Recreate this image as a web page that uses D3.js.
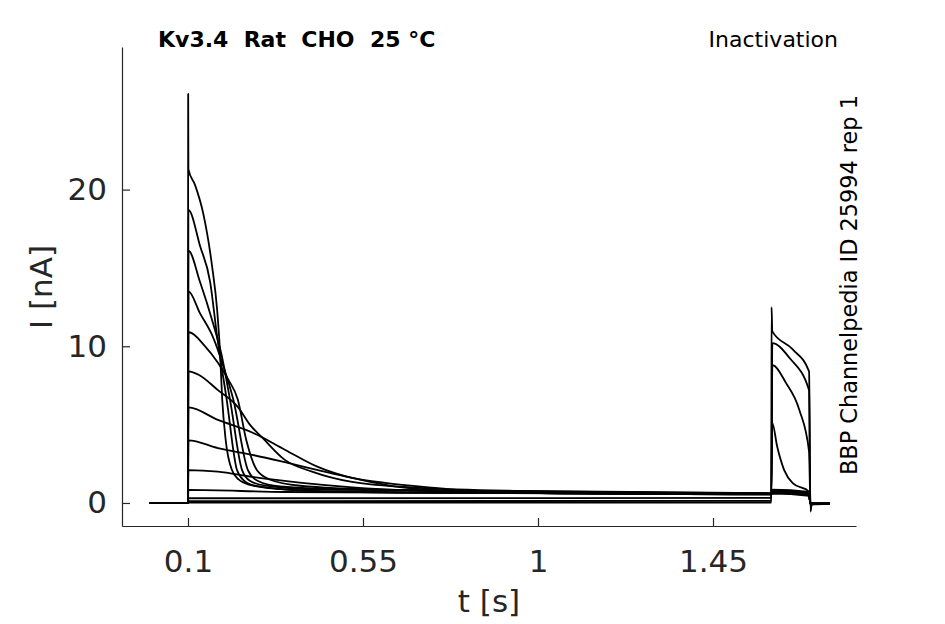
<!DOCTYPE html>
<html>
<head>
<meta charset="utf-8">
<script src="https://cdn.jsdelivr.net/npm/d3@7"></script>
<style>
  body { margin: 0; background: #fff; }
  text { font-family: "DejaVu Sans", sans-serif; }
</style>
</head>
<body>
<div id="chart"></div>
<script>
// Protocol step times [s]: hold, prepulse, test pulse, tail
var stepTimes = [0, 0.1, 1.6, 1.7, 1.75];
var xTicks = [0.1, 0.55, 1, 1.45];
var yTicks = [0, 10, 20];
var holdLevel = 0;

// Prepulse currents, one array per sweep: [t (s), I (nA)]
var prepulseSweeps = [
  [[0.1005, 26.1], [0.101, 21.3], [0.118, 20.3], [0.139, 18.5], [0.162, 15.1], [0.175, 12.3], [0.182, 9.8],
   [0.188, 6.6], [0.197, 4.0], [0.213, 2.1], [0.23, 1.5], [0.26, 1.15], [0.33, 0.9], [0.5, 0.72],
   [0.9, 0.65], [1.2, 0.6], [1.6, 0.55]],
  [[0.101, 18.7], [0.131, 16.4], [0.157, 14.1], [0.175, 10.6], [0.1995, 6.6], [0.226, 2.1], [0.245, 1.4],
   [0.272, 1.1], [0.388, 0.8], [0.645, 0.65], [1.6, 0.58]],
  [[0.101, 16.1], [0.131, 14.1], [0.164, 11.5], [0.185, 9.6], [0.208, 6.6], [0.239, 2.1], [0.26, 1.4],
   [0.3, 1.1], [0.44, 0.85], [1.6, 0.58]],
  [[0.101, 13.5], [0.131, 12.1], [0.164, 10.6], [0.19, 8.8], [0.2165, 6.6], [0.254, 2.1], [0.28, 1.4],
   [0.337, 1.05], [0.517, 0.85], [1.6, 0.6]],
  [[0.101, 10.9], [0.144, 10.0], [0.177, 8.95], [0.203, 7.9], [0.228, 6.6], [0.25, 4.0], [0.277, 2.1],
   [0.31, 1.5], [0.388, 1.1], [0.594, 0.85], [1.6, 0.6]],
  [[0.101, 8.4], [0.126, 8.2], [0.177, 7.2], [0.229, 6.1], [0.259, 5.0], [0.29, 4.2], [0.349, 2.75],
   [0.419, 2.0], [0.522, 1.34], [0.697, 0.96], [0.954, 0.77], [1.6, 0.62]],
  [[0.101, 6.1], [0.177, 5.3], [0.265, 4.5], [0.349, 3.4], [0.434, 2.3], [0.522, 1.6], [0.607, 1.28],
   [0.735, 0.96], [0.864, 0.7], [1.159, 0.6], [1.6, 0.55]],
  [[0.101, 4.0], [0.177, 3.5], [0.265, 3.07], [0.349, 2.6], [0.434, 2.1], [0.522, 1.6], [0.65, 1.0],
   [0.864, 0.7], [1.159, 0.6], [1.6, 0.55]],
  [[0.101, 2.1], [0.177, 2.0], [0.265, 1.66], [0.393, 1.28], [0.522, 1.0], [0.864, 0.7], [1.6, 0.6]],
  [[0.101, 0.83], [0.349, 0.7], [0.902, 0.64], [1.6, 0.58]],
  [[0.101, 0.3], [1.6, 0.32]],
  [[0.101, 0.12], [1.6, 0.13]],
  [[0.101, 0.02], [1.6, 0.03]]
];

// Test pulse currents, same sweep order
var testSweeps = [
  [[1.6025, 0.6], [1.697, 0.45]],
  [[1.6025, 0.65], [1.697, 0.5]],
  [[1.6025, 0.7], [1.697, 0.5]],
  [[1.6025, 0.7], [1.697, 0.55]],
  [[1.6025, 0.75], [1.697, 0.55]],
  [[1.6025, 0.75], [1.697, 0.6]],
  [[1.6025, 0.8], [1.697, 0.6]],
  [[1.6025, 0.8], [1.697, 0.65]],
  [[1.6025, 0.85], [1.697, 0.7]],
  [[1.6025, 5.1], [1.615, 3.6], [1.633, 2.1], [1.655, 1.26], [1.697, 0.72]],
  [[1.6025, 8.8], [1.638, 7.65], [1.672, 5.94], [1.697, 3.28]],
  [[1.6025, 10.2], [1.647, 9.25], [1.697, 7.2]],
  [[1.6005, 12.5], [1.6025, 10.95], [1.655, 9.8], [1.697, 8.4]]
];

// Tail after the test pulse
var tailLevel = -0.05;
var tailDip = [0, 0, 0, 0, 0, 0, 0, 0, 0, 0, 0, 0, -0.55];

var svg = d3.select("#chart")
  .append("svg")
  .attr("width", 945)
  .attr("height", 624);

var x = d3.scaleLinear().domain([-0.0697, 1.8177]).range([122, 856]);
var y = d3.scaleLinear().domain([-1.47, 29.1]).range([526, 47]);

// Build each full sweep from its pieces
var sweeps = prepulseSweeps.map(function (pre, i) {
  var pts = [[stepTimes[0], holdLevel], [stepTimes[1], holdLevel]];
  pts = pts.concat(pre, testSweeps[i]);
  if (tailDip[i] !== 0) {
    pts.push([stepTimes[3] + 0.0005, tailDip[i]]);
    pts.push([stepTimes[3] + 0.004, tailLevel * 2]);
  } else {
    pts.push([stepTimes[3] + 0.0005, tailLevel]);
  }
  pts.push([stepTimes[4], tailLevel]);
  return pts;
});

var line = d3.line()
  .x(function (d) { return x(d[0]); })
  .y(function (d) { return y(d[1]); })
  .curve(d3.curveMonotoneX);

svg.append("g")
  .selectAll("path")
  .data(sweeps)
  .enter()
  .append("path")
  .attr("d", line)
  .attr("fill", "none")
  .attr("stroke", "#000")
  .attr("stroke-width", 1.8)
  .attr("stroke-linejoin", "round");

// Axes, ticks pointing inward
var xAxis = svg.append("g")
  .attr("transform", "translate(0,526)")
  .call(d3.axisBottom(x).tickValues(xTicks).tickSize(-8).tickSizeOuter(0).tickPadding(24)
    .tickFormat(function (d) { return String(d); }));

var yAxis = svg.append("g")
  .attr("transform", "translate(122,0)")
  .call(d3.axisLeft(y).tickValues(yTicks).tickSize(-8).tickSizeOuter(0).tickPadding(15));

[xAxis, yAxis].forEach(function (a) {
  a.selectAll("path, line").attr("stroke", "#262626").attr("stroke-width", 1.2);
  a.selectAll("text")
    .attr("fill", "#262626")
    .style("font-size", "31px")
    .style("font-family", "'DejaVu Sans', sans-serif");
});

svg.append("text")
  .attr("x", 489)
  .attr("y", 612)
  .attr("text-anchor", "middle")
  .attr("fill", "#262626")
  .style("font-size", "31px")
  .text("t [s]");

svg.append("text")
  .attr("transform", "translate(52,287) rotate(-90)")
  .attr("text-anchor", "middle")
  .attr("fill", "#262626")
  .style("font-size", "31px")
  .text("I [nA]");

// Title and annotations
svg.append("text")
  .attr("x", 158)
  .attr("y", 47)
  .attr("fill", "#000")
  .style("font-size", "22px")
  .style("font-weight", "bold")
  .style("white-space", "pre")
  .text("Kv3.4  Rat  CHO  25 \u00b0C");

svg.append("text")
  .attr("x", 838)
  .attr("y", 47)
  .attr("text-anchor", "end")
  .attr("fill", "#000")
  .style("font-size", "22px")
  .text("Inactivation");

svg.append("text")
  .attr("transform", "translate(857,475) rotate(-90)")
  .attr("fill", "#000")
  .style("font-size", "22.4px")
  .text("BBP Channelpedia ID 25994 rep 1");
</script>
</body>
</html>
